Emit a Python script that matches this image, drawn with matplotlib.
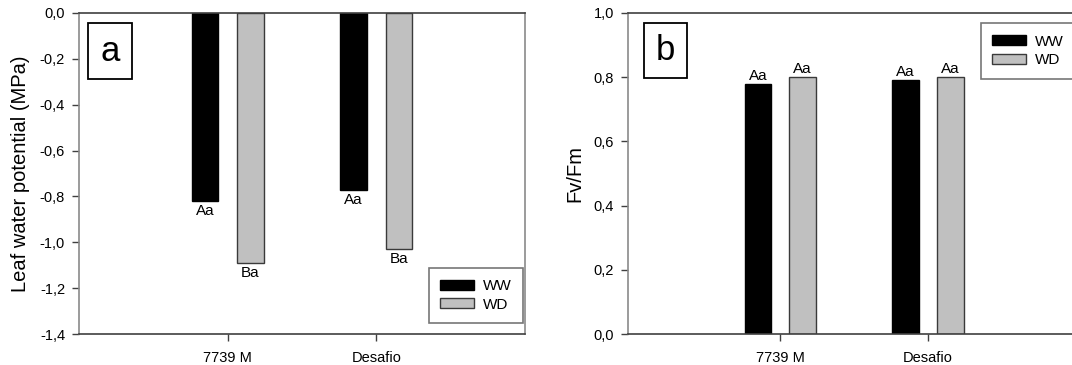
import numpy as np
import matplotlib
matplotlib.use("Agg")
import matplotlib.pyplot as plt
from matplotlib.patches import Rectangle
from matplotlib.ticker import FuncFormatter, MultipleLocator

plt.rcParams['font.family'] = ['Liberation Sans', 'DejaVu Sans']

cultivars = ['7739 M', 'Desafio']
treatments = ['WW', 'WD']

lwp_ww = [-0.82, -0.77]
lwp_wd = [-1.09, -1.03]
lwp_ww_lab = ['Aa', 'Aa']
lwp_wd_lab = ['Ba', 'Ba']

fvfm_ww = [0.78, 0.79]
fvfm_wd = [0.80, 0.80]
fvfm_ww_lab = ['Aa', 'Aa']
fvfm_wd_lab = ['Aa', 'Aa']

colors = {'WW': 'black', 'WD': '#c0c0c0'}
edges = {'WW': 'black', 'WD': '#3a3a3a'}

W, H = 1072, 365
fig = plt.figure(figsize=(W / 100, H / 100), dpi=100)
ax_a = fig.add_axes([79 / W, 31 / H, 446 / W, 321 / H])
ax_b = fig.add_axes([628 / W, 31 / H, 448 / W, 321 / H])

comma = FuncFormatter(lambda v, p: ('%.1f' % v).replace('.', ','))
x = np.arange(1, len(cultivars) + 1)
bw, off = 0.18, 0.152


def style(ax, ylim, ylabel):
    ax.set_ylim(*ylim)
    ax.yaxis.set_major_locator(MultipleLocator(0.2))
    ax.yaxis.set_major_formatter(comma)
    ax.set_xticks(x)
    ax.set_xticklabels(cultivars)
    ax.tick_params(direction='out', length=5, width=1, labelsize=10.5,
                   colors='#404040', labelcolor='black', pad=7)
    ax.tick_params(axis='y', pad=5)
    for s in ['top', 'bottom']:
        ax.spines[s].set_color('#404040')
    for s in ['left', 'right']:
        ax.spines[s].set_color('#8a8a8a')
    for s in ax.spines.values():
        s.set_linewidth(1.2)
    ax.set_ylabel(ylabel, fontsize=14.5)


def panel_tag(ax, x0, x1, y0, y1, s):
    ax.add_patch(Rectangle((x0, y0), x1 - x0, y1 - y0, transform=ax.transAxes,
                           fc='white', ec='black', lw=1.3, zorder=4))
    ax.text((x0 + x1) / 2, (y0 + y1) / 2, s, transform=ax.transAxes, fontsize=25,
            ha='center', va='center', zorder=5)


def add_legend(ax, **kw):
    leg = ax.legend(fontsize=11, fancybox=False, handlelength=2.2, handleheight=0.65,
                    borderpad=0.75, labelspacing=0.3, handletextpad=0.6,
                    borderaxespad=0, **kw)
    leg.get_frame().set_edgecolor('#555555')
    leg.get_frame().set_linewidth(1.2)


# panel a: leaf water potential
ax_a.bar(x - off, lwp_ww, bw, color=colors['WW'], edgecolor=edges['WW'], lw=1, label='WW')
ax_a.bar(x + off, lwp_wd, bw, color=colors['WD'], edgecolor=edges['WD'], lw=1, label='WD')
for xs, vals, labs in [(x - off, lwp_ww, lwp_ww_lab), (x + off, lwp_wd, lwp_wd_lab)]:
    for xi, v, t in zip(xs, vals, labs):
        ax_a.annotate(t, (xi, v), xytext=(0, -3), textcoords='offset pixels',
                      ha='center', va='top', fontsize=11)
ax_a.set_xlim(0, 3)
style(ax_a, (-1.4, 0), 'Leaf water potential (MPa)')
ax_a.yaxis.set_label_coords(-0.11, 0.5)
panel_tag(ax_a, 0.020, 0.119, 0.794, 0.969, 'a')
add_legend(ax_a, loc='lower right', bbox_to_anchor=(0.996, 0.034))

# panel b: Fv/Fm
ax_b.bar(x - off, fvfm_ww, bw, color=colors['WW'], edgecolor=edges['WW'], lw=1, label='WW')
ax_b.bar(x + off, fvfm_wd, bw, color=colors['WD'], edgecolor=edges['WD'], lw=1, label='WD')
for xs, vals, labs in [(x - off, fvfm_ww, fvfm_ww_lab), (x + off, fvfm_wd, fvfm_wd_lab)]:
    for xi, v, t in zip(xs, vals, labs):
        ax_b.annotate(t, (xi, v), xytext=(0, 1), textcoords='offset pixels',
                      ha='center', va='bottom', fontsize=11)
ax_b.set_xlim(-0.03, 3)
style(ax_b, (0, 1.0), 'Fv/Fm')
ax_b.yaxis.set_label_coords(-0.098, 0.5)
panel_tag(ax_b, 0.035, 0.131, 0.798, 0.969, 'b')
add_legend(ax_b, loc='upper left', bbox_to_anchor=(0.787, 0.968))

fig.savefig('out.png', dpi=100)
